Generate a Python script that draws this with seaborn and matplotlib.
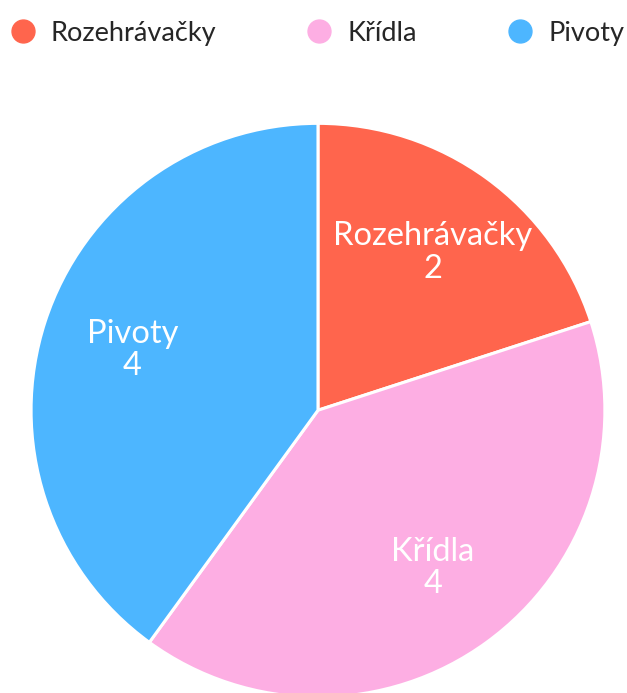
import matplotlib
matplotlib.use("Agg")
import matplotlib.pyplot as plt
from matplotlib.lines import Line2D
import seaborn as sns

# data
positions = ["Rozehrávačky", "Křídla", "Pivoty"]
counts = [2, 4, 4]
colors = ["#FF654D", "#FDAEE3", "#4DB6FF"]

sns.set_theme(style="white")
plt.rcParams['font.family'] = ['Lato', 'DejaVu Sans']

fig = plt.figure(figsize=(6.27, 6.93), dpi=100)
ax = fig.add_axes([0.0494, -0.006, 0.9155, 0.828])

labels = [p + "\n" + str(c) for p, c in zip(positions, counts)]
wedges, texts = ax.pie(counts, labels=labels, colors=colors, startangle=90,
                       counterclock=False, labeldistance=0.68,
                       wedgeprops={"edgecolor": "white", "linewidth": 2.2},
                       textprops={"color": "white", "fontsize": 23.5,
                                  "ha": "center", "va": "center",
                                  "linespacing": 1.1})
ax.set_xlim(-1, 1)
ax.set_ylim(-1, 1)
ax.set_aspect("equal")
ax.axis("off")

# legend on top with round markers
handles = [Line2D([0], [0], marker="o", linestyle="", markersize=16.5,
                  markerfacecolor=c, markeredgecolor=c) for c in colors]
fig.legend(handles, positions, loc="upper center", bbox_to_anchor=(0.505, 1.005),
           ncol=3, frameon=False, fontsize=19.5, handletextpad=0.54,
           columnspacing=3.3, handlelength=1.0)

fig.savefig("out.png", dpi=100)
